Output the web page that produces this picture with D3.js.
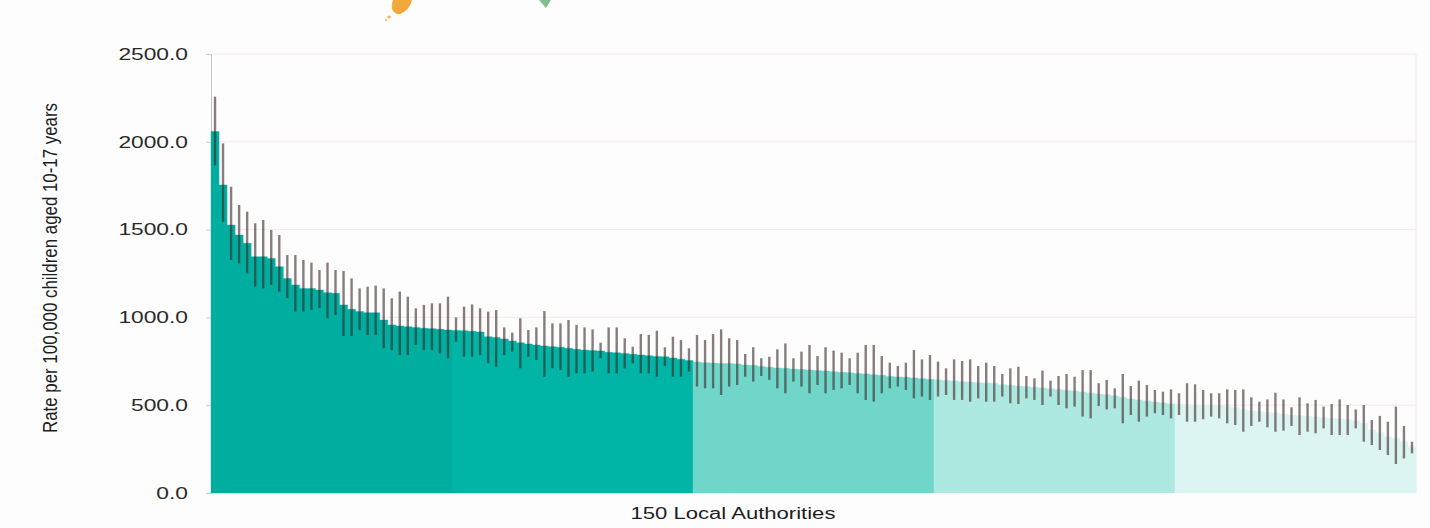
<!DOCTYPE html>
<html>
<head>
<meta charset="utf-8">
<script src="https://cdn.jsdelivr.net/npm/d3@7/dist/d3.min.js"></script>
<style>
  html, body { margin: 0; padding: 0; background: #fdfdfd; }
  svg { display: block; }
  text { font-family: "Liberation Sans", Arial, sans-serif; }
</style>
</head>
<body>
<svg id="chart" width="1430" height="528"></svg>
<script>
// Youth rate per 100,000 children aged 10-17, 150 local authorities, sorted high to low
const rates = [
  2058, 1754, 1526, 1469, 1422, 1346, 1346, 1336, 1289, 1222,
  1185, 1165, 1165, 1156, 1141, 1137, 1071, 1046, 1033, 1027,
  1027, 985, 957, 951, 947, 943, 938, 936, 932, 928,
  925, 924, 921, 917, 890, 885, 877, 866, 856, 849,
  843, 837, 833, 830, 824, 818, 814, 811, 809, 801,
  799, 795, 790, 786, 782, 778, 776, 769, 761, 754,
  746, 742, 740, 738, 738, 735, 729, 727, 721, 716,
  712, 710, 706, 704, 700, 697, 695, 691, 687, 685,
  681, 678, 674, 670, 664, 661, 659, 655, 651, 647,
  644, 640, 638, 634, 632, 628, 626, 623, 617, 613,
  609, 606, 602, 598, 594, 590, 585, 581, 575, 569,
  564, 560, 554, 545, 535, 530, 524, 518, 513, 507,
  505, 503, 501, 499, 497, 495, 492, 486, 476, 469,
  463, 459, 456, 450, 444, 440, 437, 433, 429, 425,
  421, 418, 412, 397, 359, 344, 321, 311, 292, 264
];

// Upper 95% confidence limits
const upperCI = [
  2257, 1991, 1744, 1640, 1602, 1536, 1555, 1498, 1469, 1355,
  1355, 1327, 1312, 1270, 1312, 1270, 1264, 1222, 1165, 1175,
  1181, 1165, 1109, 1147, 1118, 1052, 1071, 1080, 1080, 1118,
  1000, 1061, 1074, 1052, 1033, 1042, 943, 913, 995, 928,
  943, 1036, 966, 966, 985, 957, 943, 932, 856, 943,
  943, 881, 833, 905, 900, 924, 830, 890, 871, 824,
  900, 871, 905, 932, 881, 871, 792, 830, 767, 776,
  818, 852, 767, 805, 843, 780, 830, 811, 799, 767,
  799, 843, 843, 780, 742, 723, 742, 814, 761, 786,
  748, 710, 761, 752, 761, 723, 742, 723, 678, 710,
  719, 666, 653, 697, 640, 666, 678, 662, 700, 700,
  625, 644, 596, 678, 609, 640, 615, 587, 577, 590,
  568, 625, 619, 587, 568, 568, 590, 587, 590, 545,
  520, 533, 571, 533, 488, 545, 511, 530, 492, 507,
  533, 501, 476, 501, 416, 439, 406, 492, 382, 292
];

// Lower 95% confidence limits
const lowerCI = [
  1865, 1545, 1327, 1308, 1251, 1175, 1165, 1185, 1147, 1109,
  1033, 1033, 1042, 1052, 995, 1014, 894, 894, 928, 900,
  900, 824, 814, 786, 786, 843, 814, 814, 795, 767,
  862, 776, 776, 786, 738, 719, 786, 805, 710, 776,
  757, 662, 710, 700, 662, 681, 681, 691, 767, 681,
  681, 710, 738, 681, 681, 662, 723, 662, 662, 691,
  606, 596, 596, 558, 606, 615, 662, 634, 666, 644,
  596, 568, 634, 606, 568, 615, 568, 587, 596, 615,
  568, 530, 520, 568, 596, 606, 587, 539, 549, 530,
  549, 558, 530, 530, 520, 539, 520, 520, 549, 511,
  507, 539, 530, 501, 549, 501, 482, 492, 435, 425,
  495, 476, 482, 397, 444, 406, 435, 454, 444, 425,
  444, 406, 406, 420, 435, 425, 397, 387, 349, 382,
  406, 374, 349, 355, 382, 330, 349, 340, 368, 330,
  330, 330, 368, 292, 273, 245, 216, 165, 197, 226
];

const yTicks = [0, 500, 1000, 1500, 2000, 2500];
const quintileNames = ["Q1", "Q2", "Q3", "Q4", "Q5"];
const xTitle = "150 Local Authorities";
const yTitle = "Rate per 100,000 children aged 10-17 years";

const svg = d3.select("#chart");
const plotLeft = 211, plotRight = 1416, plotTop = 54, plotBottom = 493;
const stretch = 1.38; // text is drawn horizontally widened

const x = d3.scaleBand().domain(d3.range(rates.length)).range([plotLeft, plotRight]).padding(0);
const y = d3.scaleLinear().domain([0, 2500]).range([plotBottom, plotTop]);
const quintileColor = d3.scaleOrdinal()
  .domain(quintileNames)
  .range(["#00ae9f", "#00b4a6", "#70d6ca", "#aee9e1", "#dcf5f2"]);
const perGroup = rates.length / quintileNames.length;

// gridlines
svg.append("g").selectAll("line")
  .data(yTicks.filter(d => d > 0))
  .join("line")
  .attr("x1", plotLeft).attr("x2", plotRight)
  .attr("y1", d => y(d)).attr("y2", d => y(d))
  .attr("stroke", "#f3e9e9").attr("stroke-width", 1);

// right edge of the plot
svg.append("line")
  .attr("x1", plotRight).attr("x2", plotRight).attr("y1", plotTop).attr("y2", plotBottom)
  .attr("stroke", "#f3e9e9");

// y axis
const labelGap = 23;
const yAxis = svg.append("g")
  .attr("transform", `translate(${plotLeft},0)`)
  .call(d3.axisLeft(y).tickValues(yTicks).tickFormat(d3.format(".1f")).tickSize(5).tickPadding(labelGap - 5));
yAxis.select(".domain").attr("stroke", "#c9c4c4");
yAxis.selectAll(".tick line").attr("stroke", "#cfcaca");
yAxis.selectAll(".tick text")
  .attr("font-size", 16.5)
  .attr("fill", "#2a2a2a")
  .attr("x", -labelGap / stretch)
  .attr("transform", `scale(${stretch},1)`);

// bars: each quintile of 30 authorities is one stepped shape, one step per bar
const groups = quintileNames.map((name, g) => {
  const idx = d3.range(g * perGroup, (g + 1) * perGroup);
  const pts = idx.flatMap(i => [
    { px: x(i), v: rates[i] },
    { px: x(i) + x.bandwidth(), v: rates[i] }
  ]);
  return { name, pts };
});
const stepArea = d3.area()
  .x(d => d.px)
  .y0(y(0))
  .y1(d => y(d.v));
svg.append("g").selectAll("path")
  .data(groups)
  .join("path")
  .attr("d", d => stepArea(d.pts))
  .attr("fill", d => quintileColor(d.name))
  .attr("stroke", d => quintileColor(d.name))
  .attr("stroke-width", 0.4);

// confidence interval lines
svg.append("g").selectAll("line")
  .data(rates.map((d, i) => ({ i, lo: lowerCI[i], hi: upperCI[i] })))
  .join("line")
  .attr("x1", d => x(d.i) + x.bandwidth() / 2)
  .attr("x2", d => x(d.i) + x.bandwidth() / 2)
  .attr("y1", d => y(d.hi))
  .attr("y2", d => y(d.lo))
  .attr("stroke", "#3a2626")
  .attr("stroke-opacity", 0.6)
  .attr("stroke-width", 2.4);

// axis titles
svg.append("text")
  .attr("transform", `translate(733,519) scale(${stretch},1)`)
  .attr("text-anchor", "middle")
  .attr("font-size", 16)
  .attr("fill", "#1e1e1e")
  .text(xTitle);

svg.append("text")
  .attr("transform", `translate(57,268) scale(${stretch},1) rotate(-90)`)
  .attr("text-anchor", "middle")
  .attr("font-size", 14)
  .attr("fill", "#1e1e1e")
  .attr("textLength", 330)
  .attr("lengthAdjust", "spacingAndGlyphs")
  .text(yTitle);

// decorative artwork peeking in from above
const deco = svg.append("g");
deco.append("path")
  .attr("d", "M393,0 L412,0 Q410,9 402,13 Q398,16 394,12 Q390,8 393,0 Z")
  .attr("fill", "#f2a93b");
deco.append("circle").attr("cx", 389).attr("cy", 17).attr("r", 1.6).attr("fill", "#f4b44c");
deco.append("circle").attr("cx", 386).attr("cy", 20).attr("r", 1.2).attr("fill", "#f6c06a");
deco.append("path")
  .attr("d", "M539,0 L551,0 L546,8 Z")
  .attr("fill", "#7fbf92");
</script>
</body>
</html>
